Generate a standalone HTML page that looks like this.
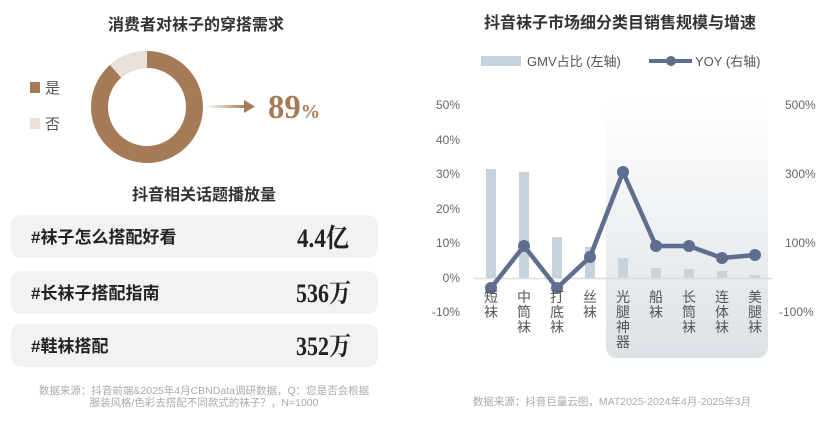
<!DOCTYPE html>
<html><head><meta charset="utf-8"><style>
body{margin:0;background:#fff;}
svg{display:block;font-family:"Liberation Sans","Noto Sans CJK SC",sans-serif;}
</style></head><body>
<svg width="830" height="428" viewBox="0 0 830 428" xmlns="http://www.w3.org/2000/svg">
<defs>
<linearGradient id="sh" x1="0" y1="0" x2="0" y2="1"><stop offset="0" stop-color="#fff"/><stop offset="1" stop-color="#dbe1e6"/></linearGradient>
<linearGradient id="ar" x1="0" y1="0" x2="1" y2="0"><stop offset="0" stop-color="#a57b57" stop-opacity="0"/><stop offset="1" stop-color="#a57b57"/></linearGradient>
</defs>
<text x="196" y="30" text-anchor="middle" font-size="16" font-weight="bold" fill="#333">消费者对袜子的穿搭需求</text>
<circle cx="147" cy="107" r="47.5" fill="none" stroke="#a57b57" stroke-width="17"/>
<path d="M147 59.5 A47.5 47.5 0 0 0 115.6 71.4" fill="none" stroke="#e8e1db" stroke-width="17"/>
<rect x="30" y="82" width="10" height="11" fill="#a57b57"/>
<text x="45" y="93" font-size="15" fill="#555">是</text>
<rect x="30" y="118" width="10" height="11" fill="#e8e1db"/>
<text x="45" y="129" font-size="15" fill="#555">否</text>
<rect x="205" y="105" width="42" height="3" fill="url(#ar)"/>
<path d="M244 100 L255 106.5 L244 113 Z" fill="#a57b57"/>
<text x="268" y="118" font-family="Liberation Serif,serif" font-size="34" font-weight="bold" fill="#a57b57" textLength="52" lengthAdjust="spacingAndGlyphs">89<tspan font-size="20">%</tspan></text>
<text x="204" y="200" text-anchor="middle" font-size="16" font-weight="bold" fill="#333">抖音相关话题播放量</text>
<rect x="11" y="215" width="367" height="43" rx="10" fill="#f2f2f2"/>
<rect x="11" y="271" width="367" height="43" rx="10" fill="#f2f2f2"/>
<rect x="11" y="324" width="367" height="43" rx="10" fill="#f2f2f2"/>
<g font-size="17" font-weight="bold" fill="#222">
<text x="31" y="243">#袜子怎么搭配好看</text>
<text x="31" y="299">#长袜子搭配指南</text>
<text x="31" y="352">#鞋袜搭配</text>
</g>
<g font-family="Liberation Serif,'Noto Serif CJK SC',serif" font-size="26" fill="#222" font-weight="bold">
<text x="297" y="247" textLength="52" lengthAdjust="spacingAndGlyphs">4.4亿</text>
<text x="296" y="302" textLength="55" lengthAdjust="spacingAndGlyphs">536万</text>
<text x="296" y="355" textLength="55" lengthAdjust="spacingAndGlyphs">352万</text>
</g>
<g font-size="10.5" fill="#aaa" text-anchor="middle">
<text x="204" y="394">数据来源：抖音前端&amp;2025年4月CBNData调研数据，Q：您是否会根据</text>
<text x="204" y="406">服装风格/色彩去搭配不同款式的袜子？，N=1000</text>
</g>
<text x="620" y="28" text-anchor="middle" font-size="16" font-weight="bold" fill="#333">抖音袜子市场细分类目销售规模与增速</text>
<rect x="481" y="56" width="40" height="10" fill="#c7d3dc"/>
<text x="527" y="66" font-size="13" fill="#555">GMV占比 (左轴)</text>
<line x1="649" y1="61" x2="692" y2="61" stroke="#5f6d8f" stroke-width="4"/>
<circle cx="671" cy="61" r="5" fill="#5f6d8f"/>
<text x="695" y="66" font-size="13" fill="#555">YOY (右轴)</text>
<path d="M606 100 H768 V346 Q768 358 756 358 H618 Q606 358 606 346 Z" fill="url(#sh)"/>
<g font-size="12" fill="#666" text-anchor="end">
<text x="460" y="109">50%</text><text x="460" y="144">40%</text><text x="460" y="178">30%</text>
<text x="460" y="213">20%</text><text x="460" y="247">10%</text><text x="460" y="282">0%</text>
<text x="460" y="316">-10%</text>
</g>
<g font-size="12" fill="#666" text-anchor="start">
<text x="785" y="109">500%</text><text x="785" y="178">300%</text><text x="785" y="247">100%</text>
<text x="779" y="316">-100%</text>
</g>
<g fill="#c7d3dc">
<rect x="486" y="169" width="10" height="109"/>
<rect x="519" y="172" width="10" height="106"/>
<rect x="552" y="237" width="10" height="41"/>
<rect x="585" y="247" width="10" height="31"/>
<rect x="618" y="258" width="10" height="20"/>
<rect x="651" y="268" width="10" height="10"/>
<rect x="684" y="269" width="10" height="9"/>
<rect x="717" y="271" width="10" height="7"/>
<rect x="750" y="275" width="10" height="3"/>
</g>
<line x1="474" y1="278.5" x2="772" y2="278.5" stroke="#dcdcdc" stroke-width="1.5"/>
<polyline points="491,288 524,246 557,288 590,257 623,172 656,246 689,246 722,258 755,255" fill="none" stroke="#5f6d8f" stroke-width="4.5" stroke-linejoin="round"/>
<g fill="#5f6d8f">
<circle cx="491" cy="288" r="6"/><circle cx="524" cy="246" r="6"/><circle cx="557" cy="288" r="6"/>
<circle cx="590" cy="257" r="6"/><circle cx="623" cy="172" r="6"/><circle cx="656" cy="246" r="6"/>
<circle cx="689" cy="246" r="6"/><circle cx="722" cy="258" r="6"/><circle cx="755" cy="255" r="6"/>
</g>
<g font-size="14" fill="#555" text-anchor="middle">
<text x="491" y="302">短</text><text x="491" y="317">袜</text>
<text x="524" y="302">中</text><text x="524" y="317">筒</text><text x="524" y="332">袜</text>
<text x="557" y="302">打</text><text x="557" y="317">底</text><text x="557" y="332">袜</text>
<text x="590" y="302">丝</text><text x="590" y="317">袜</text>
<text x="623" y="302">光</text><text x="623" y="317">腿</text><text x="623" y="332">神</text><text x="623" y="347">器</text>
<text x="656" y="302">船</text><text x="656" y="317">袜</text>
<text x="689" y="302">长</text><text x="689" y="317">筒</text><text x="689" y="332">袜</text>
<text x="722" y="302">连</text><text x="722" y="317">体</text><text x="722" y="332">袜</text>
<text x="755" y="302">美</text><text x="755" y="317">腿</text><text x="755" y="332">袜</text>
</g>
<text x="612" y="405" text-anchor="middle" font-size="10.5" fill="#aaa">数据来源：抖音巨量云图，MAT2025-2024年4月-2025年3月</text>
</svg>
</body></html>
